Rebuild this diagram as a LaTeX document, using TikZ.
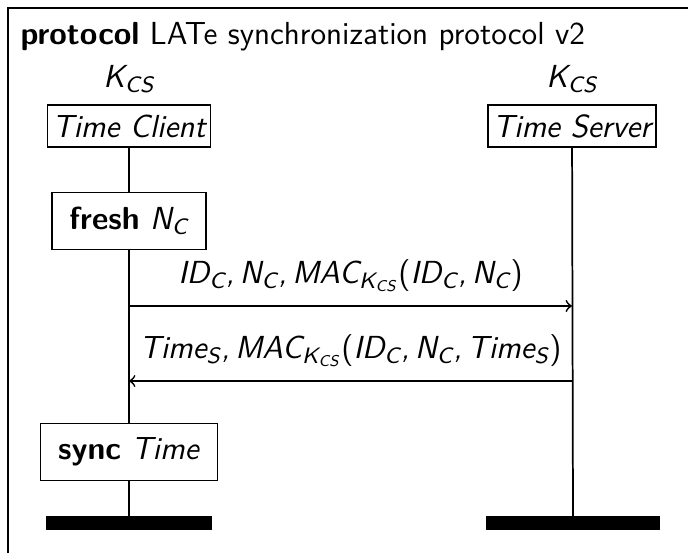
\documentclass[tikz,border=0pt]{standalone}
\usepackage{tikz}
\usetikzlibrary{positioning,calc}
\renewcommand{\familydefault}{\sfdefault}
\newcommand{\sub}[1]{\textsubscript{#1}}
\newcommand{\lpar}{\textup{(}}
\newcommand{\rpar}{\textup{)}}

\begin{document}
\fontsize{11}{13.2}\selectfont
\begin{tikzpicture}[
    x=0.345pt, y=-0.345pt,
    instbox/.style={rectangle, draw=black, fill=white, inner xsep=1.7pt, inner ysep=2pt, font=\itshape, minimum height=14.5pt},
    actbox/.style={rectangle, draw=black, fill=white, inner xsep=6pt, minimum height=19.6pt},
    instend/.style={rectangle, fill=black, minimum height=4.5pt, inner sep=0pt},
    lifeline/.style={semithick},
    msg/.style={->, semithick},
    node distance=2pt
]
\useasboundingbox (0,0) rectangle (688,553);

% frame and title
\draw (8,553) |- (688,8);
\node[anchor=base west, inner sep=0pt] (title) at (20,45) {\textbf{protocol} LATe synchronization protocol v2};

% instance heads
\node[instbox] (client) at (129,126) {Time Client};
\node[instbox] (server) at (572,126) {Time Server};
\node[above=0pt of client, font=\itshape] (kcsc) {K\sub{CS}};
\node[above=0pt of server, font=\itshape] (kcss) {K\sub{CS}};

% actions on the client
\node[actbox] (fresh) at (129,221) {\textbf{fresh} \textit{N\sub{C}}};
\node[actbox] (sync) at (129,452) {\textbf{sync} \textit{Time}};

% instance ends
\node[instend, minimum width=57.6pt] (clientend) at (129,523) {};
\node[instend, minimum width=59.7pt] (serverend) at (573,523) {};

% lifelines
\draw[lifeline] (client) -- (fresh);
\draw[lifeline] (fresh) -- (sync);
\draw[lifeline] (sync) -- (clientend);
\draw[lifeline] (server) -- (serverend);

% messages
\draw[msg] (client |- 0,306) -- node[above=1pt, font=\itshape] (m1) {ID\sub{C},\,N\sub{C},\,MAC\sub{K\sub{CS}}\lpar ID\sub{C},\,N\sub{C}\rpar} (server |- 0,306);
\draw[msg] (server |- 0,381) -- node[above=1pt, font=\itshape] (m2) {Time\sub{S},\,MAC\sub{K\sub{CS}}\lpar ID\sub{C},\,N\sub{C},\,Time\sub{S}\rpar} (client |- 0,381);

\end{tikzpicture}
\end{document}
